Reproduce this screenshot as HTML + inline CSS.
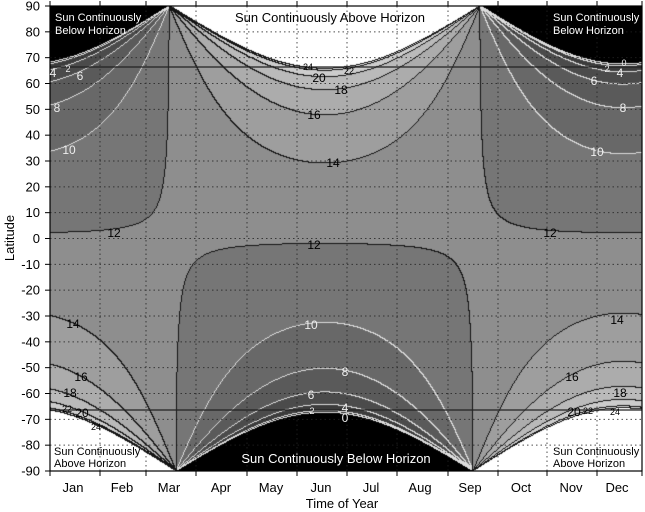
<!DOCTYPE html>
<html><head><meta charset="utf-8"><style>
body{margin:0;background:#fff;width:645px;height:512px;overflow:hidden;position:relative;font-family:"Liberation Sans",sans-serif}
canvas{position:absolute;left:50px;top:6px}
svg{position:absolute;left:0;top:0}
</style></head><body>
<canvas id="c" width="592" height="465"></canvas>
<svg width="645" height="512" font-family="Liberation Sans, sans-serif">
<g id="grid" stroke="#222" stroke-width="1" stroke-dasharray="1.5,3" opacity="0.8"></g>
<line x1="50" y1="67" x2="642" y2="67" stroke="#222" stroke-width="1.2"/>
<line x1="50" y1="410" x2="642" y2="410" stroke="#222" stroke-width="1.2"/>
<rect x="50" y="6" width="592" height="465" fill="none" stroke="#000" stroke-width="1.2"/>
<g id="ticks" stroke="#000" stroke-width="1"></g>
<g id="ylab" font-size="13" text-anchor="end" fill="#000"></g>
<g font-size="13" text-anchor="middle" fill="#000">
<text x="73" y="492">Jan</text><text x="122" y="492">Feb</text><text x="169" y="492">Mar</text><text x="221" y="492">Apr</text><text x="271" y="492">May</text><text x="321" y="492">Jun</text><text x="371" y="492">Jul</text><text x="420" y="492">Aug</text><text x="470" y="492">Sep</text><text x="521" y="492">Oct</text><text x="571" y="492">Nov</text><text x="617" y="492">Dec</text>
<text x="342" y="508">Time of Year</text>
<text transform="translate(14,238) rotate(-90)">Latitude</text>
</g>
<g font-size="11" fill="#fff">
<text x="55" y="21">Sun Continuously</text><text x="55" y="34">Below Horizon</text>
<text x="553" y="21">Sun Continuously</text><text x="553" y="34">Below Horizon</text>
</g>
<g font-size="11" fill="#000">
<text x="54" y="455">Sun Continuously</text><text x="54" y="467">Above Horizon</text>
<text x="553" y="455">Sun Continuously</text><text x="553" y="467">Above Horizon</text>
</g>
<text x="330" y="22" font-size="13" text-anchor="middle" fill="#000">Sun Continuously Above Horizon</text>
<text x="336" y="463" font-size="13" text-anchor="middle" fill="#fff">Sun Continuously Below Horizon</text>
<g font-size="12" text-anchor="middle" fill="#000">
<text x="114" y="237">12</text><text x="550" y="237">12</text><text x="314" y="249">12</text>
<text x="333" y="167">14</text><text x="314" y="119">16</text><text x="341" y="94">18</text><text x="319" y="82">20</text>
<text x="349" y="74" font-size="9">22</text><text x="308" y="70" font-size="9">24</text>
<text x="73" y="328">14</text><text x="81" y="381">16</text><text x="70" y="397">18</text><text x="82" y="417">20</text>
<text x="67" y="412" font-size="9">22</text><text x="96" y="430" font-size="9">24</text>
<text x="617" y="324">14</text><text x="572" y="381">16</text><text x="620" y="397">18</text><text x="574" y="416">20</text>
<text x="588" y="414" font-size="9">22</text><text x="615" y="415" font-size="9">24</text>
</g>
<g font-size="12" text-anchor="middle" fill="#eee">
<text x="69" y="154">10</text><text x="57" y="112">8</text><text x="80" y="80">6</text><text x="53" y="77">4</text><text x="68" y="72" font-size="9">2</text>
<text x="597" y="156">10</text><text x="623" y="112">8</text><text x="594" y="85">6</text><text x="620" y="77">4</text><text x="607" y="72" font-size="9">2</text><text x="624" y="66" font-size="9">0</text>
<text x="311" y="329">10</text><text x="345" y="376">8</text><text x="311" y="399">6</text><text x="345" y="412">4</text><text x="312" y="414" font-size="9">2</text><text x="345" y="422">0</text>
</g>
</svg>
<script>
var NS="http://www.w3.org/2000/svg";
function el(p,t,a){var e=document.createElementNS(NS,t);for(var k in a)e.setAttribute(k,a[k]);p.appendChild(e);return e;}
var monthX=[50,100,146,196,247,297,347,397,448,498,547,597,642];
var grid=document.getElementById('grid'),ticks=document.getElementById('ticks'),ylab=document.getElementById('ylab');
function Y(lat){return 238.5-lat*465/180;}
for(var i=1;i<12;i++){el(grid,'line',{x1:monthX[i],y1:6,x2:monthX[i],y2:471});}
for(var i=0;i<=12;i++){el(ticks,'line',{x1:monthX[i],y1:471,x2:monthX[i],y2:476});el(ticks,'line',{x1:monthX[i],y1:6,x2:monthX[i],y2:1});}
for(var l=-90;l<=90;l+=10){var y=Y(l);if(l>-90&&l<90)el(grid,'line',{x1:50,y1:y,x2:642,y2:y});
el(ticks,'line',{x1:45,y1:y,x2:50,y2:y});var t=el(ylab,'text',{x:40,y:y+4.5});t.textContent=l;}
var c=document.getElementById('c'),ctx=c.getContext('2d'),W=592,H=465;
var img=ctx.createImageData(W,H),d=img.data;
var rad=Math.PI/180,eps=23.44*rad,h0=Math.sin(-0.833*rad);
function decl(x){var ph;if(x>=173&&x<=477)ph=Math.PI*(x-173)/304;else{var xx=x<173?x+596.8:x;ph=Math.PI+Math.PI*(xx-477)/292.8;}return Math.asin(Math.sin(eps)*Math.sin(ph));}
var cols={"-1":0,0:45,1:60,2:75,3:90,4:104,5:118,6:142,7:158,8:172,9:186,10:204,11:222,12:255};
var band=new Int8Array(W*H);
for(var px=0;px<W;px++){var dc=decl(px+50.5),sd=Math.sin(dc),cd=Math.cos(dc);
for(var py=0;py<H;py++){var lat=(90-(py+0.5)*180/H)*rad;var cc=(h0-Math.sin(lat)*sd)/(Math.cos(lat)*cd);var b;
if(cc>=1)b=-1;else if(cc<=-1)b=12;else{var D=2*Math.acos(cc)/rad/15;b=Math.min(11,Math.floor(D/2));}
band[py*W+px]=b;}}
for(var py=0;py<H;py++)for(var px=0;px<W;px++){var i=py*W+px,b=band[i],v=cols[b],r=v;
var rb=px<W-1?band[i+1]:b,db=py<H-1?band[i+W]:b;
if(rb!=b||db!=b){var lv=Math.max(b,rb,db);r=(lv<=5)?220:20;}
var k=i*4;d[k]=r;d[k+1]=r;d[k+2]=r;d[k+3]=255;}
ctx.putImageData(img,0,0);
</script>
</body></html>
